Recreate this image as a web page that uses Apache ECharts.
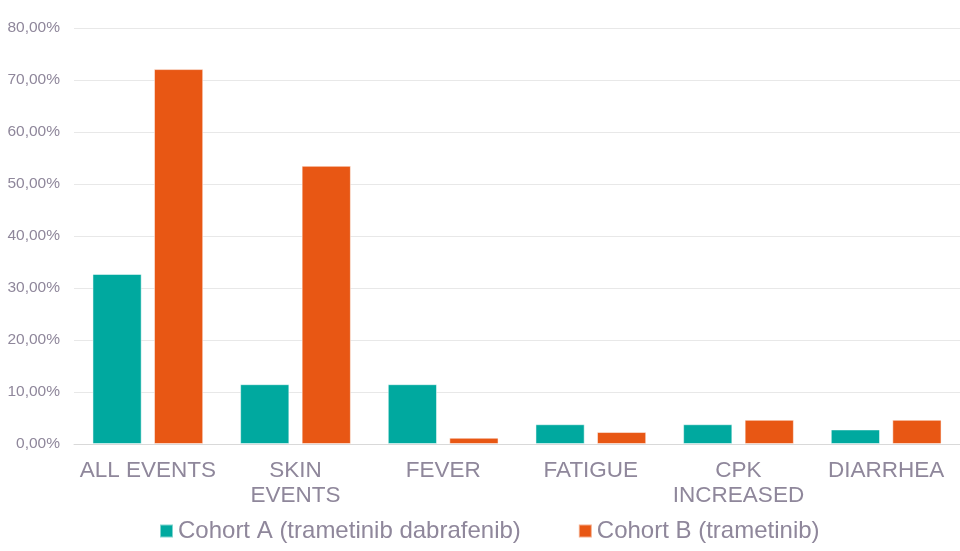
<!DOCTYPE html>
<html><head><meta charset="utf-8">
<script src="https://cdn.jsdelivr.net/npm/echarts@6/dist/echarts.min.js"></script>
<style>html,body{margin:0;padding:0;background:#fff}#c{width:960px;height:551px}</style>
</head><body><div id="c"></div>
<script>
const categories = ['ALL EVENTS', 'SKIN EVENTS', 'FEVER', 'FATIGUE', 'CPK INCREASED', 'DIARRHEA'];
const cohortA = [32.7, 11.5, 11.5, 3.8, 3.8, 2.8];
const cohortB = [72.1, 53.5, 1.2, 2.3, 4.65, 4.65];
const seriesNames = ['Cohort A (trametinib dabrafenib)', 'Cohort B (trametinib)'];
const wrapped = {'SKIN EVENTS': 'SKIN\nEVENTS', 'CPK INCREASED': 'CPK\nINCREASED'};
const txt = '#8F879B';
const chart = echarts.init(document.getElementById('c'));
chart.setOption({
  animation: false,
  textStyle: {fontFamily: 'Liberation Sans, Arial, sans-serif'},
  grid: {left: 74, right: 0, top: 28, bottom: 107, containLabel: false},
  legend: {
    left: 154, top: 514, itemWidth: 13, itemHeight: 13, itemGap: 57,
    icon: 'rect',
    textStyle: {color: txt, fontSize: 24, fontFamily: 'Liberation Sans, Arial, sans-serif'},
    data: seriesNames
  },
  xAxis: {
    type: 'category', data: categories,
    axisLine: {lineStyle: {color: '#D9D9D9'}},
    axisTick: {show: false},
    axisLabel: {color: txt, fontSize: 22.5, lineHeight: 25, margin: 14, interval: 0,
      formatter: v => wrapped[v] || v}
  },
  yAxis: {
    type: 'value', min: 0, max: 80, interval: 10,
    axisLine: {show: false}, axisTick: {show: false},
    splitLine: {lineStyle: {color: '#E8E8E8'}},
    axisLabel: {color: txt, fontSize: 15.5, margin: 14, padding: [3, 0, 0, 0],
      formatter: v => v.toFixed(2).replace('.', ',') + '%'}
  },
  series: [
    {name: seriesNames[0], type: 'bar', data: cohortA, barGap: '25%', barCategoryGap: '25%',
     itemStyle: {color: '#00A99F', borderColor: 'rgba(255,255,255,0.5)', borderWidth: 1}},
    {name: seriesNames[1], type: 'bar', data: cohortB,
     itemStyle: {color: '#E85714', borderColor: 'rgba(255,255,255,0.5)', borderWidth: 1}}
  ]
});
</script></body></html>
